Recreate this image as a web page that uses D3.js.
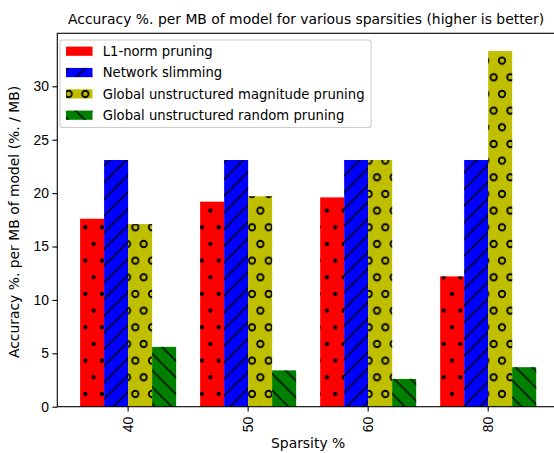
<!DOCTYPE html>
<html>
<head>
<meta charset="utf-8">
<script src="https://cdn.jsdelivr.net/npm/d3@7"></script>
<style>
  body { margin: 0; background: #fff; }
  svg { display: block; font-family: "DejaVu Sans", sans-serif; }
  .tick text { font-size: 13.9px; fill: #000; }
</style>
</head>
<body>
<div id="chart"></div>
<script>
const sparsities = ["40", "50", "60", "80"];
const seriesNames = [
  "L1-norm pruning",
  "Network slimming",
  "Global unstructured magnitude pruning",
  "Global unstructured random pruning"
];
const l1Norm = [17.6, 19.2, 19.6, 12.2];
const netSlimming = [23.1, 23.1, 23.1, 23.1];
const globalMagnitude = [17.1, 19.7, 23.1, 33.3];
const globalRandom = [5.6, 3.4, 2.6, 3.7];
const yTicks = [0, 5, 10, 15, 20, 25, 30];

const seriesValues = [l1Norm, netSlimming, globalMagnitude, globalRandom];
const colors = ["#ff0000", "#0000ff", "#bfbf00", "#008000"];
const hatches = ["dots", "slash", "rings", "backslash"];

const width = 554, height = 453;
const margin = { left: 57.3, right: 559, top: 33.3, bottom: 406.7 };

const svg = d3.select("#chart").append("svg")
  .attr("width", width)
  .attr("height", height);

// hatch patterns, anchored to the page like matplotlib does
const defs = svg.append("defs");
const hs = 100 / 6;

const dots = defs.append("pattern").attr("id", "dots")
  .attr("patternUnits", "userSpaceOnUse")
  .attr("x", 2.0).attr("y", 27.3)
  .attr("width", hs).attr("height", hs * 2);
const rings = defs.append("pattern").attr("id", "rings")
  .attr("patternUnits", "userSpaceOnUse")
  .attr("x", 2.0).attr("y", 27.3)
  .attr("width", hs).attr("height", hs * 2);
[[0, 0], [hs, 0], [0, hs * 2], [hs, hs * 2], [hs / 2, hs]].forEach(([cx, cy]) => {
  dots.append("circle").attr("cx", cx).attr("cy", cy).attr("r", 2.1).attr("fill", "#000");
  rings.append("circle").attr("cx", cx).attr("cy", cy).attr("r", 3.2)
    .attr("fill", "none").attr("stroke", "#000").attr("stroke-width", 1.8);
});

const slash = defs.append("pattern").attr("id", "slash")
  .attr("patternUnits", "userSpaceOnUse")
  .attr("x", 3.3).attr("y", 0)
  .attr("width", hs).attr("height", hs);
[0, hs, 2 * hs].forEach(c => {
  // line x + y = c
  slash.append("line").attr("x1", c + 2).attr("y1", -2)
    .attr("x2", c - hs - 2).attr("y2", hs + 2)
    .attr("stroke", "#000").attr("stroke-width", 1.4);
});

const backslash = defs.append("pattern").attr("id", "backslash")
  .attr("patternUnits", "userSpaceOnUse")
  .attr("x", 15.1).attr("y", 0)
  .attr("width", hs).attr("height", hs);
[-hs, 0, hs].forEach(c => {
  // line x - y = c
  backslash.append("line").attr("x1", c - 2).attr("y1", -2)
    .attr("x2", c + hs + 2).attr("y2", hs + 2)
    .attr("stroke", "#000").attr("stroke-width", 1.4);
});

const x = d3.scaleBand()
  .domain(sparsities)
  .range([margin.left, margin.right])
  .paddingInner(0.2)
  .paddingOuter(0.19);

const xSeries = d3.scaleBand()
  .domain(d3.range(seriesNames.length))
  .range([0, x.bandwidth()]);

const yMax = d3.max(seriesValues.flat()) * 1.05;
const y = d3.scaleLinear()
  .domain([0, yMax])
  .range([margin.bottom, margin.top]);

// bars: colour first, hatch on top
seriesValues.forEach((vals, si) => {
  const g = svg.append("g");
  const rows = sparsities.map((s, i) => ({ s, v: vals[i] }));
  ["fill", "hatch"].forEach(layer => {
    g.selectAll("rect." + layer).data(rows).join("rect")
      .attr("class", layer)
      .attr("x", d => x(d.s) + xSeries(si))
      .attr("y", d => y(d.v))
      .attr("width", xSeries.bandwidth())
      .attr("height", d => y(0) - y(d.v))
      .attr("fill", layer === "fill" ? colors[si] : `url(#${hatches[si]})`);
  });
});

// axes
const xAxis = svg.append("g")
  .attr("transform", `translate(0,${margin.bottom})`)
  .call(d3.axisBottom(x).tickSize(4.9).tickPadding(4.9).tickSizeOuter(0));
xAxis.selectAll(".tick text")
  .attr("transform", "rotate(-90)")
  .attr("x", -10).attr("y", 0)
  .attr("dy", "0.35em")
  .attr("text-anchor", "end");

svg.append("g")
  .attr("transform", `translate(${margin.left},0)`)
  .call(d3.axisLeft(y).tickValues(yTicks).tickSize(4.9).tickPadding(3.5).tickSizeOuter(0));

svg.selectAll(".domain").remove();
svg.selectAll(".tick line").attr("stroke", "#000").attr("stroke-width", 1.1);

// spines
svg.append("rect")
  .attr("x", margin.left).attr("y", margin.top)
  .attr("width", margin.right - margin.left)
  .attr("height", margin.bottom - margin.top)
  .attr("fill", "none").attr("stroke", "#000").attr("stroke-width", 1.1);

// titles
const midX = (margin.left + margin.right) / 2;
svg.append("text")
  .attr("x", midX - 2).attr("y", 24)
  .attr("text-anchor", "middle")
  .attr("font-size", 13.9)
  .text("Accuracy %. per MB of model for various sparsities (higher is better)");

svg.append("text")
  .attr("x", midX).attr("y", 448)
  .attr("text-anchor", "middle")
  .attr("font-size", 13.9)
  .text("Sparsity %");

svg.append("text")
  .attr("transform", `translate(18.5,${(margin.top + margin.bottom) / 2 + 2}) rotate(-90)`)
  .attr("text-anchor", "middle")
  .attr("font-size", 13.9)
  .text("Accuracy %. per MB of model (%. / MB)");

// legend
const legend = svg.append("g");
legend.append("rect")
  .attr("x", 60).attr("y", 40)
  .attr("width", 311).attr("height", 87.5)
  .attr("rx", 2.8)
  .attr("fill", "#fff").attr("fill-opacity", 0.8)
  .attr("stroke", "#cccccc").attr("stroke-width", 1.1);

const rowY = d3.scaleLinear().domain([0, 3]).range([51.2, 115.2]);
seriesNames.forEach((name, i) => {
  const cy = rowY(i);
  ["fill", "hatch"].forEach(layer => {
    legend.append("rect")
      .attr("x", 66).attr("y", cy - 4.6)
      .attr("width", 26.5).attr("height", 9.2)
      .attr("fill", layer === "fill" ? colors[i] : `url(#${hatches[i]})`);
  });
  legend.append("text")
    .attr("x", 102.7).attr("y", cy + 4.8)
    .attr("font-size", 13.2)
    .text(name);
});
</script>
</body>
</html>
